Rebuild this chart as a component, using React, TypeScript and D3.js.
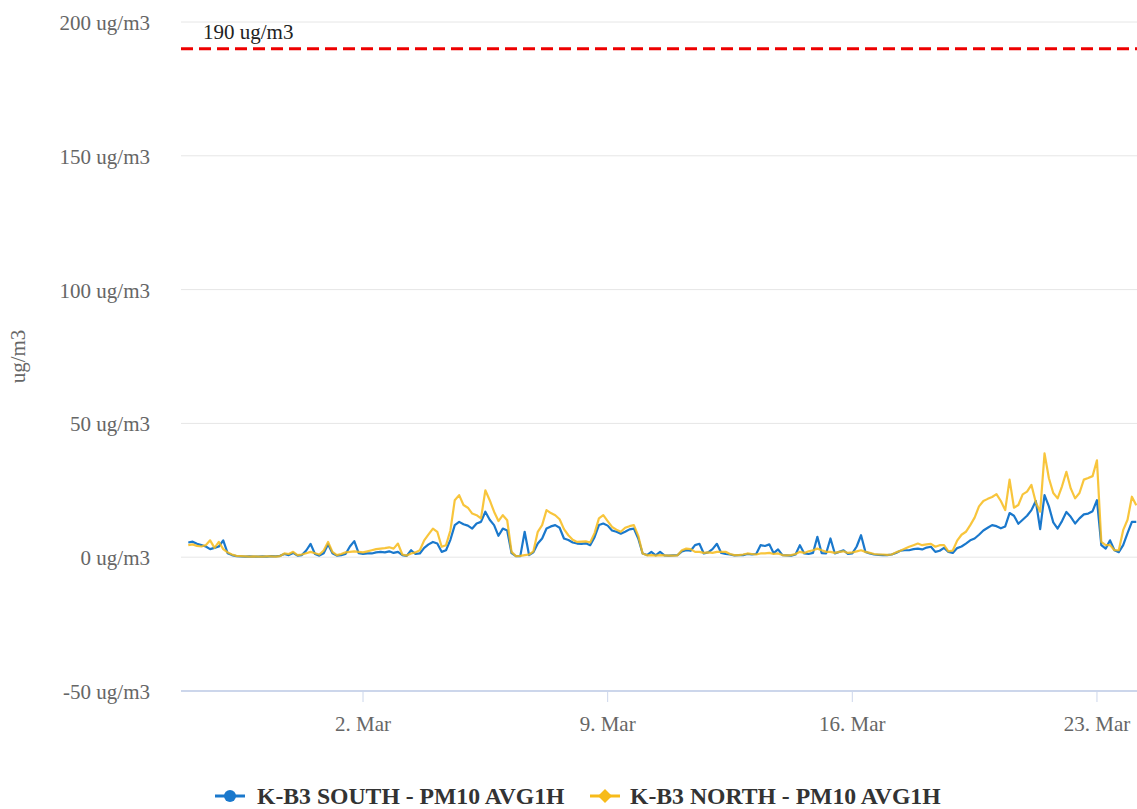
import React from "react";
import * as d3 from "d3";

// ---- data (3-hourly averages) ----
const START = new Date(2021, 1, 25, 0, 0);
const STEP_HOURS = 3;

const southValues: number[] = [
  5.5, 5.8, 5, 4.5, 4, 3, 3.5, 4, 6.3, 1.5,
  0.8, 0.4, 0.3, 0.2, 0.3, 0.2, 0.2, 0.3, 0.2, 0.4,
  0.3, 0.5, 1.2, 0.8, 1.6, 0.6, 0.8, 2.5, 5, 1.2,
  0.6, 1.5, 4.8, 1.5, 0.6, 0.8, 1.2, 4, 6, 1.5,
  1.2, 1.4, 1.4, 1.8, 2, 1.8, 2.2, 1.6, 2, 0.8,
  0.5, 2.6, 1.2, 1.4, 3.5, 4.8, 5.7, 5.1, 2, 2.6,
  6.5, 12, 13.2, 12.3, 11.8, 10.7, 12.6, 13.2, 17, 14,
  12, 8, 10.7, 10, 1.5, 0.4, 0.4, 9.5, 0.8, 1.8,
  5.1, 7, 10.7, 11.5, 12, 11, 7, 6.4, 5.5, 5.1,
  5, 5.2, 4.5, 7.5, 12, 12.6, 11.8, 10, 9.5, 8.8,
  9.5, 10.4, 10.7, 7, 1.4, 0.8, 2, 0.7, 2, 0.7,
  0.6, 0.7, 0.8, 2.2, 2.6, 2.4, 4.5, 5, 1.4, 1.8,
  3, 5, 1.6, 1.2, 1, 0.7, 0.8, 0.8, 1.2, 1,
  1.2, 4.5, 4.2, 4.8, 1.5, 2.9, 0.8, 0.7, 0.6, 1,
  4.5, 1.4, 1.2, 1.6, 7.6, 1.5, 1.4, 7, 1.4, 2,
  2.6, 1.2, 1.4, 4, 8.2, 2, 1.4, 1, 0.9, 0.8,
  0.8, 1, 1.6, 2.4, 2.6, 2.6, 3, 3.2, 2.9, 3.6,
  3.9, 2, 2.4, 3.5, 2, 1.6, 3.4, 4, 5.1, 6.3,
  7, 8.4, 10, 11, 12, 11.6, 10.8, 11.5, 16.5, 15.5,
  12.5, 14, 15.5, 17.6, 21, 10.5, 23.2, 19, 13, 10.7,
  13.5, 16.9, 15.1, 12.6, 14.5, 16, 16.3, 17.2, 21.3, 4.5,
  3.2, 6.3, 2.6, 1.9, 4.5, 9, 13.2, 13.2,
];

const northValues: number[] = [
  4.5, 4.8, 4.2, 4, 4.5, 6.3, 3.5, 5.7, 3, 1.8,
  1, 0.5, 0.4, 0.3, 0.2, 0.3, 0.2, 0.2, 0.3, 0.3,
  0.2, 0.4, 1.4, 1.2, 2, 0.8, 1, 1.5, 2, 1.5,
  1, 2.5, 5.7, 2, 0.8, 1.2, 1.8, 2, 2.2, 2,
  1.8, 2.2, 2.6, 3, 3.2, 3.4, 3.7, 3.2, 5.1, 1,
  0.6, 1.4, 1.8, 2.6, 6.3, 8.5, 10.7, 9.5, 3.9, 4.5,
  10, 21.3, 23.2, 19.5, 18.5, 16.3, 15.7, 14.5, 25, 21.3,
  17, 13.5, 15.7, 13.8, 2, 0.4, 0.5, 0.8, 1, 2.2,
  9.5, 12, 17.6, 16.5, 15.7, 14.2, 10.5, 8.2, 6.5, 5.7,
  5.8, 5.9, 5.5, 9, 14.5, 15.7, 13.5, 11.3, 10.3, 9.5,
  11, 11.6, 12, 8, 1.4, 0.7, 0.8, 0.6, 0.8, 0.7,
  0.6, 0.6, 0.7, 2.6, 3.2, 3, 2, 2, 1.6, 1.8,
  1.6, 2, 2, 2, 1.2, 0.8, 0.8, 1, 1.4, 1.2,
  1, 1.4, 1.4, 1.6, 1.2, 1.4, 0.8, 0.7, 0.8, 1.2,
  2, 1.6, 2.2, 2.6, 3.2, 2.6, 2, 2, 1.6, 2,
  2.2, 1.6, 1.8, 2.2, 2.6, 2, 1.6, 1.2, 1, 1,
  0.9, 1, 1.8, 2.4, 3.2, 3.9, 4.5, 5.1, 4.5, 4.8,
  5, 3.9, 4.5, 4.5, 2.2, 2.5, 6.2, 8.4, 9.5, 12,
  14.8, 19, 21, 21.8, 22.5, 23.6, 21, 17.6, 29, 18.5,
  19.5, 23.5, 24.5, 27, 20.5, 17, 38.8, 29.5, 24, 22,
  26.5, 31.9, 25.7, 22, 24, 29, 29.6, 30.3, 36.2, 5.7,
  4.5, 4.5, 2.6, 2.6, 10.1, 14, 22.6, 19.4,
];

const yTicks = [-50, 0, 50, 100, 150, 200];
const xTickDates = [new Date(2021, 2, 2), new Date(2021, 2, 9), new Date(2021, 2, 16), new Date(2021, 2, 23)];
const LIMIT_VALUE = 190;
const LIMIT_LABEL = "190 ug/m3";
const seriesNames = ["K-B3 SOUTH - PM10 AVG1H", "K-B3 NORTH - PM10 AVG1H"];
const seriesColors = ["#1a78cc", "#f7bb1a"];

const W = 1137;
const H = 809;
const plot = { left: 181, right: 1137, top: 22, bottom: 691 };
const FONT = "'Liberation Serif', 'Times New Roman', serif";

const timeAt = (i: number) => new Date(START.getTime() + i * STEP_HOURS * 3600 * 1000);

export default function App() {
  const x = d3
    .scaleTime()
    .domain([new Date(2021, 1, 24, 19, 0), new Date(2021, 2, 24, 3, 30)])
    .range([plot.left, plot.right]);
  const y = d3.scaleLinear().domain([-50, 200]).range([plot.bottom, plot.top]);

  const line = d3
    .line<number>()
    .x((_, i) => x(timeAt(i)))
    .y((v) => y(v));

  const fmt = d3.timeFormat("%-d. %b");

  return (
    <svg
      width={W}
      height={H}
      style={{ position: "absolute", left: 0, top: 0, background: "#fff" }}
      fontFamily={FONT}
    >
      {/* grid */}
      {yTicks
        .filter((t) => t !== -50)
        .map((t) => (
          <line key={t} x1={plot.left} x2={plot.right} y1={y(t)} y2={y(t)} stroke="#e6e6e6" strokeWidth={1} />
        ))}
      {/* y tick labels */}
      {yTicks.map((t) => (
        <text key={t} x={150} y={y(t) + 8} textAnchor="end" fontSize={21} fill="#666">
          {`${t} ug/m3`}
        </text>
      ))}
      {/* y axis title */}
      <text
        transform={`translate(25, ${(plot.top + plot.bottom) / 2}) rotate(-90)`}
        textAnchor="middle"
        fontSize={21}
        fill="#666"
      >
        ug/m3
      </text>
      {/* x axis */}
      <line x1={plot.left} x2={plot.right} y1={plot.bottom} y2={plot.bottom} stroke="#ccd6eb" strokeWidth={2} />
      {xTickDates.map((d) => (
        <g key={d.getTime()}>
          <line x1={x(d)} x2={x(d)} y1={plot.bottom} y2={plot.bottom + 11} stroke="#ccd6eb" strokeWidth={1} />
          <text x={x(d)} y={plot.bottom + 40} textAnchor="middle" fontSize={21} fill="#666">
            {fmt(d)}
          </text>
        </g>
      ))}
      {/* limit line */}
      <line
        x1={plot.left}
        x2={plot.right}
        y1={y(LIMIT_VALUE)}
        y2={y(LIMIT_VALUE)}
        stroke="#ee0000"
        strokeWidth={3}
        strokeDasharray="12,6"
      />
      <text x={203} y={y(LIMIT_VALUE) - 10} fontSize={21} fill="#222">
        {LIMIT_LABEL}
      </text>
      {/* series */}
      <path d={line(southValues) || ""} fill="none" stroke={seriesColors[0]} strokeWidth={2.2} strokeLinejoin="round" />
      <path
        d={line(northValues) || ""}
        fill="none"
        stroke={seriesColors[1]}
        strokeWidth={2.2}
        strokeLinejoin="round"
        opacity={0.85}
      />
      {/* legend */}
      <g>
        <line x1={215} x2={245} y1={796} y2={796} stroke={seriesColors[0]} strokeWidth={3} />
        <circle cx={230} cy={796} r={6} fill={seriesColors[0]} />
        <text x={257} y={804} fontSize={23.7} fontWeight="bold" fill="#333">
          {seriesNames[0]}
        </text>
        <line x1={590} x2={620} y1={796} y2={796} stroke={seriesColors[1]} strokeWidth={3} />
        <path d="M605,789 L612,796 L605,803 L598,796 Z" fill={seriesColors[1]} />
        <text x={630} y={804} fontSize={23.7} fontWeight="bold" fill="#333">
          {seriesNames[1]}
        </text>
      </g>
    </svg>
  );
}
